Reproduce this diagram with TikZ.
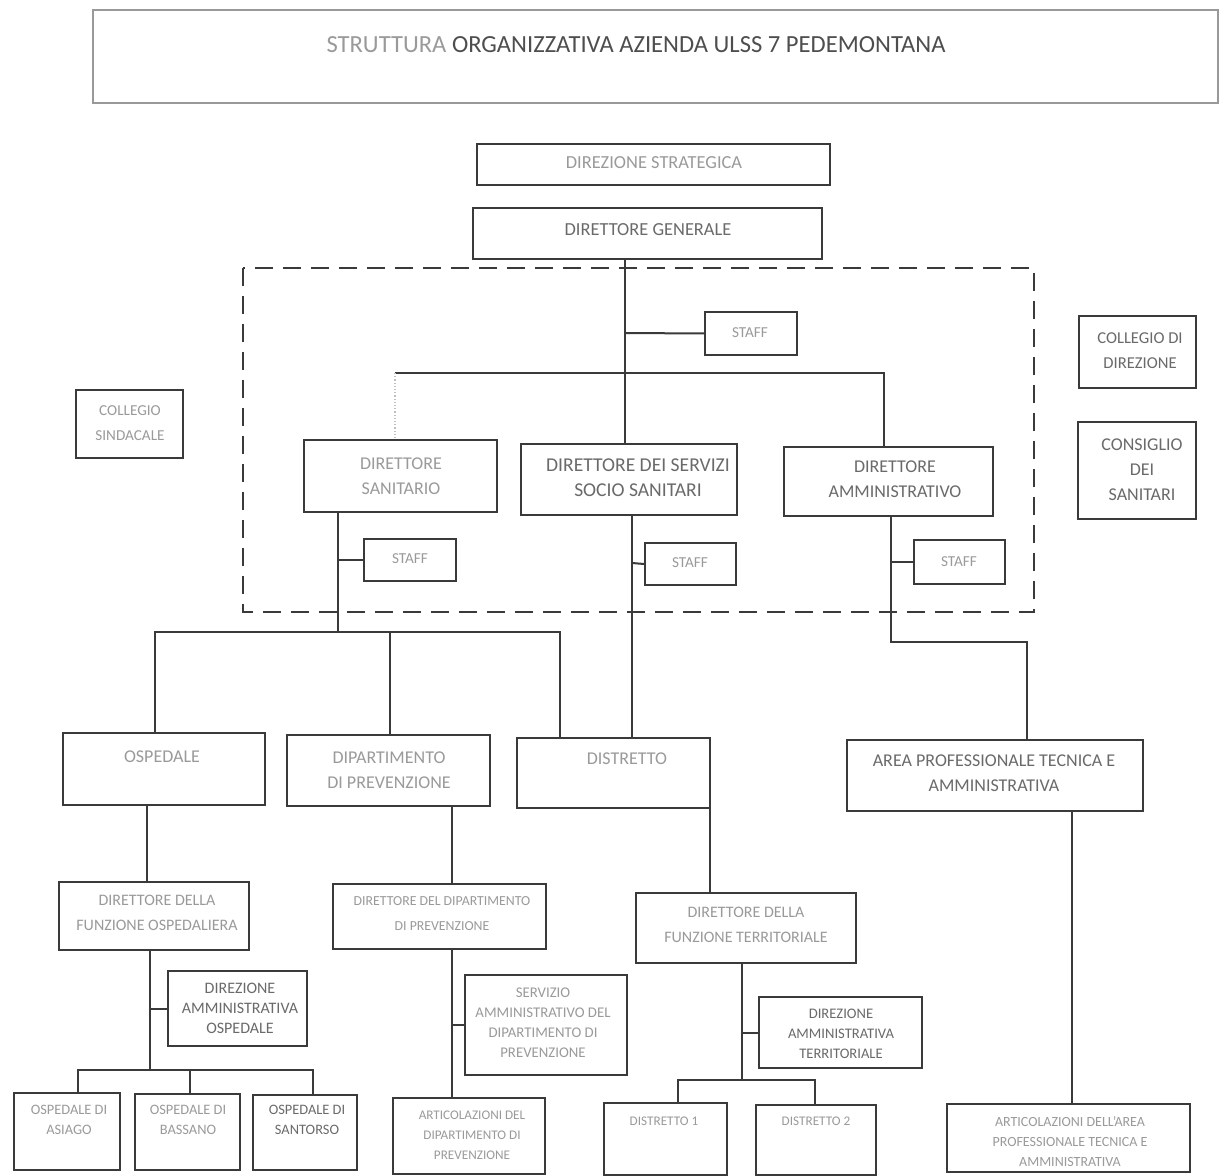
\documentclass[tikz,border=0pt]{standalone}
\usepackage{fontspec}
\setmainfont{Carlito}
\usetikzlibrary{fit}
\definecolor{ln}{HTML}{3A3A3A}
\definecolor{tl}{HTML}{9A9A9A}
\definecolor{tm}{HTML}{6A6A6A}
\begin{document}
\begin{tikzpicture}[x=0.5pt,y=-0.5pt,
  bx/.style={draw=ln,line width=1pt,inner sep=0pt},
  tx/.style={align=center,inner sep=0pt,text=tl,font=\fontsize{#1}{12.5}\selectfont},
  tx/.default=9,
  tn/.style={align=center,inner sep=0pt,text=tl,font=\fontsize{#1}{10}\selectfont},
  tn/.default=7,
  dk/.style={text=tm},
  cn/.style={draw=ln,line width=1pt},
  fa/.style={draw=gray!50,line width=0.6pt,densely dotted}]
\useasboundingbox[fill=white] (0,0) rectangle (1220,1176);
% title
\node[draw=gray!80,line width=0.8pt,inner sep=0pt,fit={(93,10) (1218,103)}] (title) {};
\node[font=\fontsize{12.3}{14}\selectfont] (ttext) at (636,45) {\textcolor{tl}{STRUTTURA} \textcolor{ln!90}{ORGANIZZATIVA AZIENDA ULSS 7 PEDEMONTANA}};
% boxes
\node[bx,fit={(477,144) (830,185)}] (ds0) {};
\node[bx,fit={(473,208) (822,259)}] (dg) {};
\draw[ln,line width=1pt,dash pattern=on 9pt off 5pt] (243,268) rectangle (1034,612);
\node[bx,fit={(705,312) (797,355)}] (st1) {};
\node[bx,fit={(76,390) (183,458)}] (cs) {};
\node[bx,fit={(304,440) (497,512)}] (dsan) {};
\node[bx,fit={(521,444) (737,515)}] (dss) {};
\node[bx,fit={(784,447) (993,516)}] (da) {};
\node[bx,fit={(1079,316) (1196,388)}] (cd) {};
\node[bx,fit={(1078,422) (1196,519)}] (cds) {};
\node[bx,fit={(364,539) (456,581)}] (st2) {};
\node[bx,fit={(645,543) (736,585)}] (st3) {};
\node[bx,fit={(914,540) (1005,584)}] (st4) {};
\node[bx,fit={(63,733) (265,805)}] (osp) {};
\node[bx,fit={(287,735) (490,806)}] (dp) {};
\node[bx,fit={(517,738) (710,808)}] (dist) {};
\node[bx,fit={(847,740) (1143,811)}] (area) {};
\node[bx,fit={(59,882) (249,950)}] (dfo) {};
\node[bx,fit={(333,884) (546,949)}] (ddp) {};
\node[bx,fit={(636,893) (856,963)}] (dft) {};
\node[bx,fit={(168,971) (307,1046)}] (dao) {};
\node[bx,fit={(465,975) (627,1075)}] (sad) {};
\node[bx,fit={(759,997) (922,1068)}] (dat) {};
\node[bx,fit={(14,1093) (120,1170)}] (oa) {};
\node[bx,fit={(135,1094) (240,1170)}] (ob) {};
\node[bx,fit={(253,1095) (357,1170)}] (os) {};
\node[bx,fit={(393,1098) (545,1174)}] (adp) {};
\node[bx,fit={(604,1103) (727,1175)}] (d1) {};
\node[bx,fit={(756,1105) (876,1175)}] (d2) {};
\node[bx,fit={(947,1104) (1190,1172)}] (aa) {};
% texts
\node[tx=9.2] (ds0t) at (654,163) {DIREZIONE STRATEGICA};
\node[tx=9.2,dk] (dgt) at (648,230) {DIRETTORE GENERALE};
\node[tx=7.6] (st1t) at (750,333) {STAFF};
\node[tx=7.6] (cst) at (130,423) {COLLEGIO\\SINDACALE};
\node[tx] (dsant) at (401,476) {DIRETTORE\\SANITARIO};
\node[tx=9.8,dk] (dsst) at (638,478) {DIRETTORE DEI SERVIZI\\SOCIO SANITARI};
\node[tx,dk] (dat0) at (895,479) {DIRETTORE\\AMMINISTRATIVO};
\node[tx=8.3,dk] (cdt) at (1140,351) {COLLEGIO DI\\DIREZIONE};
\node[tx,dk] (cdst) at (1142,470) {CONSIGLIO\\DEI\\SANITARI};
\node[tx=7.6] (st2t) at (410,559) {STAFF};
\node[tx=7.6] (st3t) at (690,563) {STAFF};
\node[tx=7.6] (st4t) at (959,562) {STAFF};
\node[tx] (ospt) at (162,757) {OSPEDALE};
\node[tx] (dpt) at (389,770) {DIPARTIMENTO\\DI PREVENZIONE};
\node[tx] (distt) at (627,759) {DISTRETTO};
\node[tx,dk] (areat) at (994,773) {AREA PROFESSIONALE TECNICA E\\AMMINISTRATIVA};
\node[tx=8] (dfot) at (157,913) {DIRETTORE DELLA\\FUNZIONE OSPEDALIERA};
\node[tx=6.9] (ddpt) at (442,914) {DIRETTORE DEL DIPARTIMENTO\\DI PREVENZIONE};
\node[tx=8] (dftt) at (746,925) {DIRETTORE DELLA\\FUNZIONE TERRITORIALE};
\node[tn=8,dk] (daot) at (240,1008) {DIREZIONE\\AMMINISTRATIVA\\OSPEDALE};
\node[tn=7.4] (sadt) at (543,1023) {SERVIZIO\\AMMINISTRATIVO DEL\\DIPARTIMENTO DI\\PREVENZIONE};
\node[tn=7.3,dk] (datt) at (841,1034) {DIREZIONE\\AMMINISTRATIVA\\TERRITORIALE};
\node[tn=7.2] (oat) at (69,1120) {OSPEDALE DI\\ASIAGO};
\node[tn=7.2] (obt) at (188,1120) {OSPEDALE DI\\BASSANO};
\node[tn=7.2,dk] (ost) at (307,1120) {OSPEDALE DI\\SANTORSO};
\node[tn=6.6] (adpt) at (472,1135) {ARTICOLAZIONI DEL\\DIPARTIMENTO DI\\PREVENZIONE};
\node[tn=6.6] (d1t) at (664,1121) {DISTRETTO 1};
\node[tn=6.6] (d2t) at (816,1121) {DISTRETTO 2};
\node[tn=7] (aat) at (1070,1142) {ARTICOLAZIONI DELL'AREA\\PROFESSIONALE TECNICA E\\AMMINISTRATIVA};
% junction coordinates
\coordinate (xg) at (625,333);
\coordinate (hL) at (395,373);
\coordinate (hR) at (884,373);
\coordinate (xs) at (338,632);
\coordinate (xss) at (632,563);
\coordinate (xa) at (891,642);
\coordinate (xaR) at (1027,642);
\coordinate (bA) at (155,632);
\coordinate (bB) at (390,632);
\coordinate (bC) at (560,632);
\coordinate (xo) at (147,0);
\coordinate (xf) at (150,1070);
\coordinate (o1) at (78,1070);
\coordinate (o2) at (190,1070);
\coordinate (o3) at (313,1070);
\coordinate (xp) at (452,0);
\coordinate (xd) at (710,0);
\coordinate (xt) at (742,1080);
\coordinate (t1) at (678,1080);
\coordinate (t2) at (815,1080);
\coordinate (xar) at (1072,0);
% connectors
\draw[cn] (xg |- dg.south) -- (xg |- dss.north);
\draw[cn] (xg) -- (st1.west);
\draw[cn] (hL) -- (hR) -- (hR |- da.north);
\draw[fa] (hL) -- (hL |- dsan.north);
\draw[cn] (xs |- dsan.south) -- (xs);
\draw[cn] (xs |- st2.west) -- (st2.west);
\draw[cn] (bA |- osp.north) -- (bA) -- (bC) -- (bC |- dist.north);
\draw[cn] (bB) -- (bB |- dp.north);
\draw[cn] (xss |- dss.south) -- (xss |- dist.north);
\draw[cn] (xss) -- (st3.west);
\draw[cn] (xa |- da.south) -- (xa) -- (xaR) -- (xaR |- area.north);
\draw[cn] (xa |- st4.west) -- (st4.west);
\draw[cn] (xo |- osp.south) -- (xo |- dfo.north);
\draw[cn] (xf |- dfo.south) -- (xf);
\draw[cn] (xf |- dao.west) -- (dao.west);
\draw[cn] (o1 |- oa.north) -- (o1) -- (o3) -- (o3 |- os.north);
\draw[cn] (o2) -- (o2 |- ob.north);
\draw[cn] (xp |- dp.south) -- (xp |- ddp.north);
\draw[cn] (xp |- ddp.south) -- (xp |- adp.north);
\draw[cn] (xp |- sad.west) -- (sad.west);
\draw[cn] (xd |- dist.south) -- (xd |- dft.north);
\draw[cn] (xt |- dft.south) -- (xt);
\draw[cn] (xt |- dat.west) -- (dat.west);
\draw[cn] (t1 |- d1.north) -- (t1) -- (t2) -- (t2 |- d2.north);
\draw[cn] (xar |- area.south) -- (xar |- aa.north);
\end{tikzpicture}
\end{document}
